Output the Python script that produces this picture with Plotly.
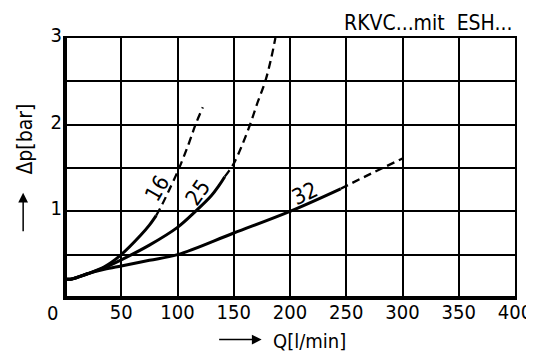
import plotly.graph_objects as go

# ---- data ----
q16_solid = [0, 6, 20, 35, 50, 67, 75, 81]
p16_solid = [0.22, 0.22, 0.28, 0.36, 0.5, 0.72, 0.84, 0.95]
q16_dash = [81, 86, 92, 101.5, 110, 116, 122.5]
p16_dash = [0.95, 1.07, 1.23, 1.5, 1.78, 2.0, 2.2]

q25_solid = [0, 6, 20, 35, 50, 75, 100, 116, 130, 137, 142]
p25_solid = [0.22, 0.22, 0.28, 0.35, 0.44, 0.61, 0.815, 1.0, 1.18, 1.3, 1.4]
q25_dash = [142, 146, 150, 157, 164.5, 171, 178, 183, 187]
p25_dash = [1.4, 1.47, 1.55, 1.75, 2.0, 2.25, 2.5, 2.75, 3.0]

q32_solid = [0, 6, 20, 35, 50, 75, 100, 150, 200, 245]
p32_solid = [0.22, 0.22, 0.28, 0.33, 0.37, 0.435, 0.5, 0.75, 1.0, 1.26]
q32_dash = [245, 272, 300]
p32_dash = [1.26, 1.435, 1.61]

curve_labels = ["16", "25", "32"]
label_q = [82, 118, 213]
label_p = [1.26, 1.22, 1.21]
label_angle = [-60, -55, -25]

x_tickvals = [50, 100, 150, 200, 250, 300, 350, 400]
x_ticktext = ["50", "100", "150", "200", "250", "300", "350", "400"]
y_tickvals = [1, 2, 3]
y_ticktext = ["1", "2", "3"]
y_gridvals = [0.5, 1.5, 2.5]

title_text = "RKVC...mit\u00a0\u00a0ESH..."
x_title = "Q[l/min]"
y_title = "Δp[bar]"

FONT = "DejaVu Sans Condensed, DejaVu Sans, sans-serif"
FS = 20

fig = go.Figure()
segments = [
    (q16_solid, p16_solid, "solid"), (q16_dash, p16_dash, "dash"),
    (q25_solid, p25_solid, "solid"), (q25_dash, p25_dash, "dash"),
    (q32_solid, p32_solid, "solid"), (q32_dash, p32_dash, "dash"),
]
for q, p, style in segments:
    fig.add_trace(go.Scatter(
        x=q, y=p, mode="lines",
        line=dict(color="black", width=3 if style == "solid" else 2.3,
                  shape="spline", smoothing=1.0,
                  dash="solid" if style == "solid" else "8px,5px"),
        showlegend=False, hoverinfo="skip"))

for t, q, p, a in zip(curve_labels, label_q, label_p, label_angle):
    fig.add_annotation(x=q, y=p, text=t, showarrow=False, textangle=a,
                       font=dict(family=FONT, size=22, color="black"))

# origin label
fig.add_annotation(xref="paper", yref="paper", x=-0.027, y=-0.058, text="0",
                   showarrow=False, xanchor="center", yanchor="middle",
                   font=dict(family=FONT, size=FS, color="black"))
# top-right title
fig.add_annotation(xref="paper", yref="paper", x=0.997, y=1.058, xanchor="right",
                   yanchor="middle", text=title_text, showarrow=False,
                   font=dict(family=FONT, size=21, color="black"))
# axis titles with arrows
fig.add_annotation(xref="paper", yref="paper", x=0.458, y=-0.165, xanchor="left",
                   yanchor="middle", text=x_title, showarrow=False,
                   font=dict(family=FONT, size=FS, color="black"))
fig.add_annotation(xref="paper", yref="paper", x=0.437, y=-0.16, ax=-44, ay=0,
                   text="", showarrow=True, arrowhead=2, arrowsize=1.3,
                   arrowwidth=1.5, arrowcolor="black")
fig.add_annotation(xref="paper", yref="paper", x=-0.089, y=0.613, xanchor="center",
                   yanchor="middle", text=y_title, textangle=-90, showarrow=False,
                   font=dict(family=FONT, size=21, color="black"))
fig.add_annotation(xref="paper", yref="paper", x=-0.093, y=0.405, ax=0, ay=40,
                   text="", showarrow=True, arrowhead=2, arrowsize=1.3,
                   arrowwidth=1.5, arrowcolor="black")

# thick left & bottom axis lines
fig.add_shape(type="line", xref="paper", yref="paper", x0=0, x1=0, y0=0, y1=1,
              line=dict(color="black", width=4))
fig.add_shape(type="line", xref="paper", yref="paper", x0=0, x1=1, y0=0, y1=0,
              line=dict(color="black", width=4))

fig.update_xaxes(range=[0, 400], tickvals=x_tickvals, ticktext=x_ticktext,
                 showgrid=True, gridcolor="black", gridwidth=2,
                 showline=True, linecolor="black", linewidth=2, mirror=True,
                 ticks="", zeroline=False, fixedrange=True, automargin=False,
                 ticklabelstandoff=-5,
                 tickfont=dict(family=FONT, size=FS, color="black"))
fig.update_yaxes(range=[0, 3], tickvals=y_tickvals, ticktext=y_ticktext,
                 showgrid=True, gridcolor="black", gridwidth=2,
                 showline=True, linecolor="black", linewidth=2, mirror=True,
                 ticks="", zeroline=False, fixedrange=True, automargin=False,
                 ticklabelstandoff=-3, ticklabelshift=-3,
                 minor=dict(tickvals=y_gridvals, showgrid=True,
                            gridcolor="black", gridwidth=2),
                 tickfont=dict(family=FONT, size=FS, color="black"))

# page body has an 8px margin: size the figure so the plot lands where the reference has it
fig.update_layout(width=526, height=348, margin=dict(l=57, r=19, t=30, b=58),
                  paper_bgcolor="white", plot_bgcolor="white")

fig.write_html("out.html")
